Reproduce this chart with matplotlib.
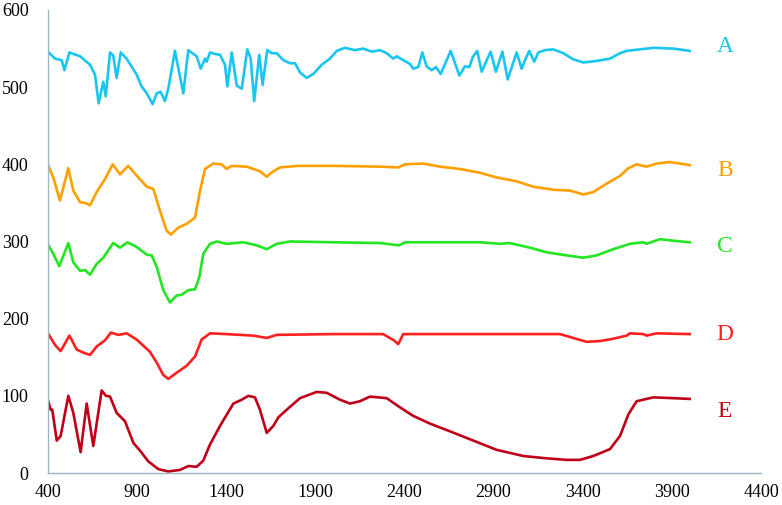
import matplotlib
matplotlib.use('Agg')
import matplotlib.pyplot as plt

# -----------------------------
# Spectra (wavenumber, value)
# -----------------------------
a_x = [400, 439, 477, 492, 520, 580, 636, 664, 684, 710, 724, 748, 766, 785, 808, 841, 898, 925,
       954, 987, 1010, 1032, 1056, 1075, 1112, 1159, 1187, 1234, 1257, 1281, 1290, 1309, 1337, 1365,
       1393, 1406, 1431, 1459, 1487, 1518, 1537, 1557, 1585, 1604, 1630, 1655, 1683, 1720, 1758,
       1786, 1814, 1851, 1888, 1935, 1982, 2020, 2066, 2122, 2169, 2216, 2263, 2300, 2337, 2356,
       2393, 2431, 2449, 2477, 2500, 2524, 2552, 2577, 2603, 2659, 2708, 2739, 2764, 2783, 2808,
       2833, 2883, 2913, 2949, 2979, 3029, 3057, 3076, 3100, 3128, 3151, 3188, 3235, 3291, 3347,
       3403, 3478, 3553, 3609, 3646, 3758, 3796, 3908, 4000]
a_y = [546, 537, 535, 522, 545, 540, 529, 516, 479, 507, 488, 545, 541, 512, 545, 537, 516, 501,
       492, 478, 492, 494, 482, 498, 547, 492, 548, 540, 524, 537, 533, 545, 543, 542,
       529, 501, 545, 502, 498, 549, 537, 482, 542, 503, 548, 544, 544, 535, 531,
       531, 519, 512, 517, 529, 537, 547, 551, 548, 550, 546, 548, 544, 537, 540,
       535, 530, 524, 526, 545, 527, 522, 526, 517, 547, 515, 527, 526, 539, 547,
       520, 546, 520, 546, 510, 545, 524, 535, 547, 533, 545, 548, 549, 544, 536,
       532, 534, 537, 544, 547, 550, 551, 550, 547]

b_x = [400, 430, 467, 514, 542, 580, 608, 636, 673, 720, 763, 804, 850, 907, 954, 991, 1028, 1066,
       1090, 1131, 1178, 1225, 1253, 1281, 1327, 1374, 1402, 1431, 1515, 1589, 1627, 1664, 1702,
       1800, 2000, 2263, 2365, 2403, 2506, 2599, 2711, 2824, 2917, 3029, 3123, 3235, 3328, 3403,
       3459, 3534, 3609, 3656, 3702, 3758, 3814, 3889, 3945, 4000]
b_y = [399, 383, 353, 395, 366, 351, 350, 347, 364, 381, 400, 387, 398, 383, 371, 368, 340, 314,
       309, 318, 323, 331, 366, 394, 401, 400, 394, 398, 397, 391, 384, 391, 396,
       398, 398, 397, 396, 400, 401, 397, 394, 389, 383, 378, 371, 367, 366, 361,
       364, 375, 385, 395, 400, 397, 401, 403, 401, 399]

c_x = [400, 430, 463, 514, 542, 580, 608, 636, 673, 710, 766, 804, 845, 897, 954, 982, 1010, 1047,
       1084, 1122, 1150, 1187, 1225, 1249, 1271, 1309, 1346, 1402, 1496, 1571, 1627, 1683, 1758,
       2000, 2263, 2369, 2403, 2824, 2936, 2990, 3104, 3197, 3309, 3403, 3478, 3571, 3665, 3740,
       3758, 3833, 3908, 4000]
c_y = [296, 284, 268, 298, 273, 262, 263, 257, 271, 279, 298, 292, 299, 293, 283, 282, 267, 237,
       221, 230, 231, 237, 238, 254, 284, 297, 300, 297, 299, 295, 290, 297, 300,
       299, 298, 295, 299, 299, 297, 298, 292, 286, 282, 279, 282, 290, 297, 299,
       297, 303, 301, 299]

d_x = [400, 439, 471, 520, 561, 598, 636, 673, 720, 753, 794, 841, 897, 972, 1010, 1047, 1075, 1122,
       1178, 1225, 1262, 1309, 1402, 1477, 1552, 1627, 1683, 2000, 2280, 2340, 2365, 2393, 2800,
       3272, 3347, 3422, 3497, 3571, 3646, 3665, 3740, 3758, 3814, 4000]
d_y = [181, 166, 158, 178, 160, 156, 153, 164, 172, 182, 179, 181, 173, 157, 143, 127, 122, 130,
       139, 151, 173, 181, 180, 179, 178, 175, 179, 180, 180, 172, 167, 180, 180,
       180, 175, 170, 171, 174, 178, 181, 180, 178, 181, 180]

e_x = [400, 415, 424, 449, 471, 514, 542, 583, 617, 654, 701, 725, 748, 785, 832, 879, 916, 963,
       1019, 1075, 1141, 1187, 1234, 1271, 1309, 1365, 1440, 1487, 1524, 1561, 1589, 1627, 1664,
       1692, 1739, 1814, 1907, 1963, 2038, 2094, 2150, 2206, 2300, 2375, 2449, 2543, 2655, 2786,
       2917, 3067, 3197, 3309, 3384, 3459, 3553, 3609, 3656, 3702, 3796, 3908, 4000]
e_y = [94, 82, 82, 42, 48, 100, 78, 27, 90, 35, 107, 100, 99, 78, 67, 39, 29, 15,
       5, 2, 4, 9, 8, 16, 37, 61, 90, 95, 100, 98, 82, 52, 61,
       72, 82, 97, 105, 104, 95, 90, 93, 99, 97, 85, 74, 64, 54, 42,
       30, 22, 19, 17, 17, 22, 31, 48, 76, 93, 98, 97, 96]

labels = ['A', 'B', 'C', 'D', 'E']
label_y = [553, 392, 293, 180, 80]
colors = ['#1AC6F0', '#FFA000', '#22E622', '#FF1F1F', '#C00018']

x_ticks = [400, 900, 1400, 1900, 2400, 2900, 3400, 3900, 4400]
y_ticks = [0, 100, 200, 300, 400, 500, 600]

plt.rcParams['font.family'] = ['Liberation Serif', 'DejaVu Serif']

fig = plt.figure(figsize=(7.82, 5.05), dpi=100)
ax = fig.add_axes([48 / 782, 32 / 505, 713 / 782, 463 / 505])

series = [(a_x, a_y), (b_x, b_y), (c_x, c_y), (d_x, d_y), (e_x, e_y)]
for (xs, ys), col, lab, ly in zip(series, colors, labels, label_y):
    ax.plot(xs, ys, color=col, lw=1.9, solid_joinstyle='round')
    ax.text(4197, ly, lab, color=col, fontsize=17, ha='center', va='center')

ax.set_xlim(400, 4400)
ax.set_ylim(0, 600)
ax.set_xticks(x_ticks)
ax.set_yticks(y_ticks)
ax.tick_params(length=0, labelsize=13, colors='black')
ax.tick_params(axis='y', pad=14)
ax.tick_params(axis='x', pad=8)
for side in ['top', 'right']:
    ax.spines[side].set_visible(False)
for side in ['left', 'bottom']:
    ax.spines[side].set_color('#9DB6C2')
    ax.spines[side].set_linewidth(1)

fig.savefig('out.png', dpi=100)
